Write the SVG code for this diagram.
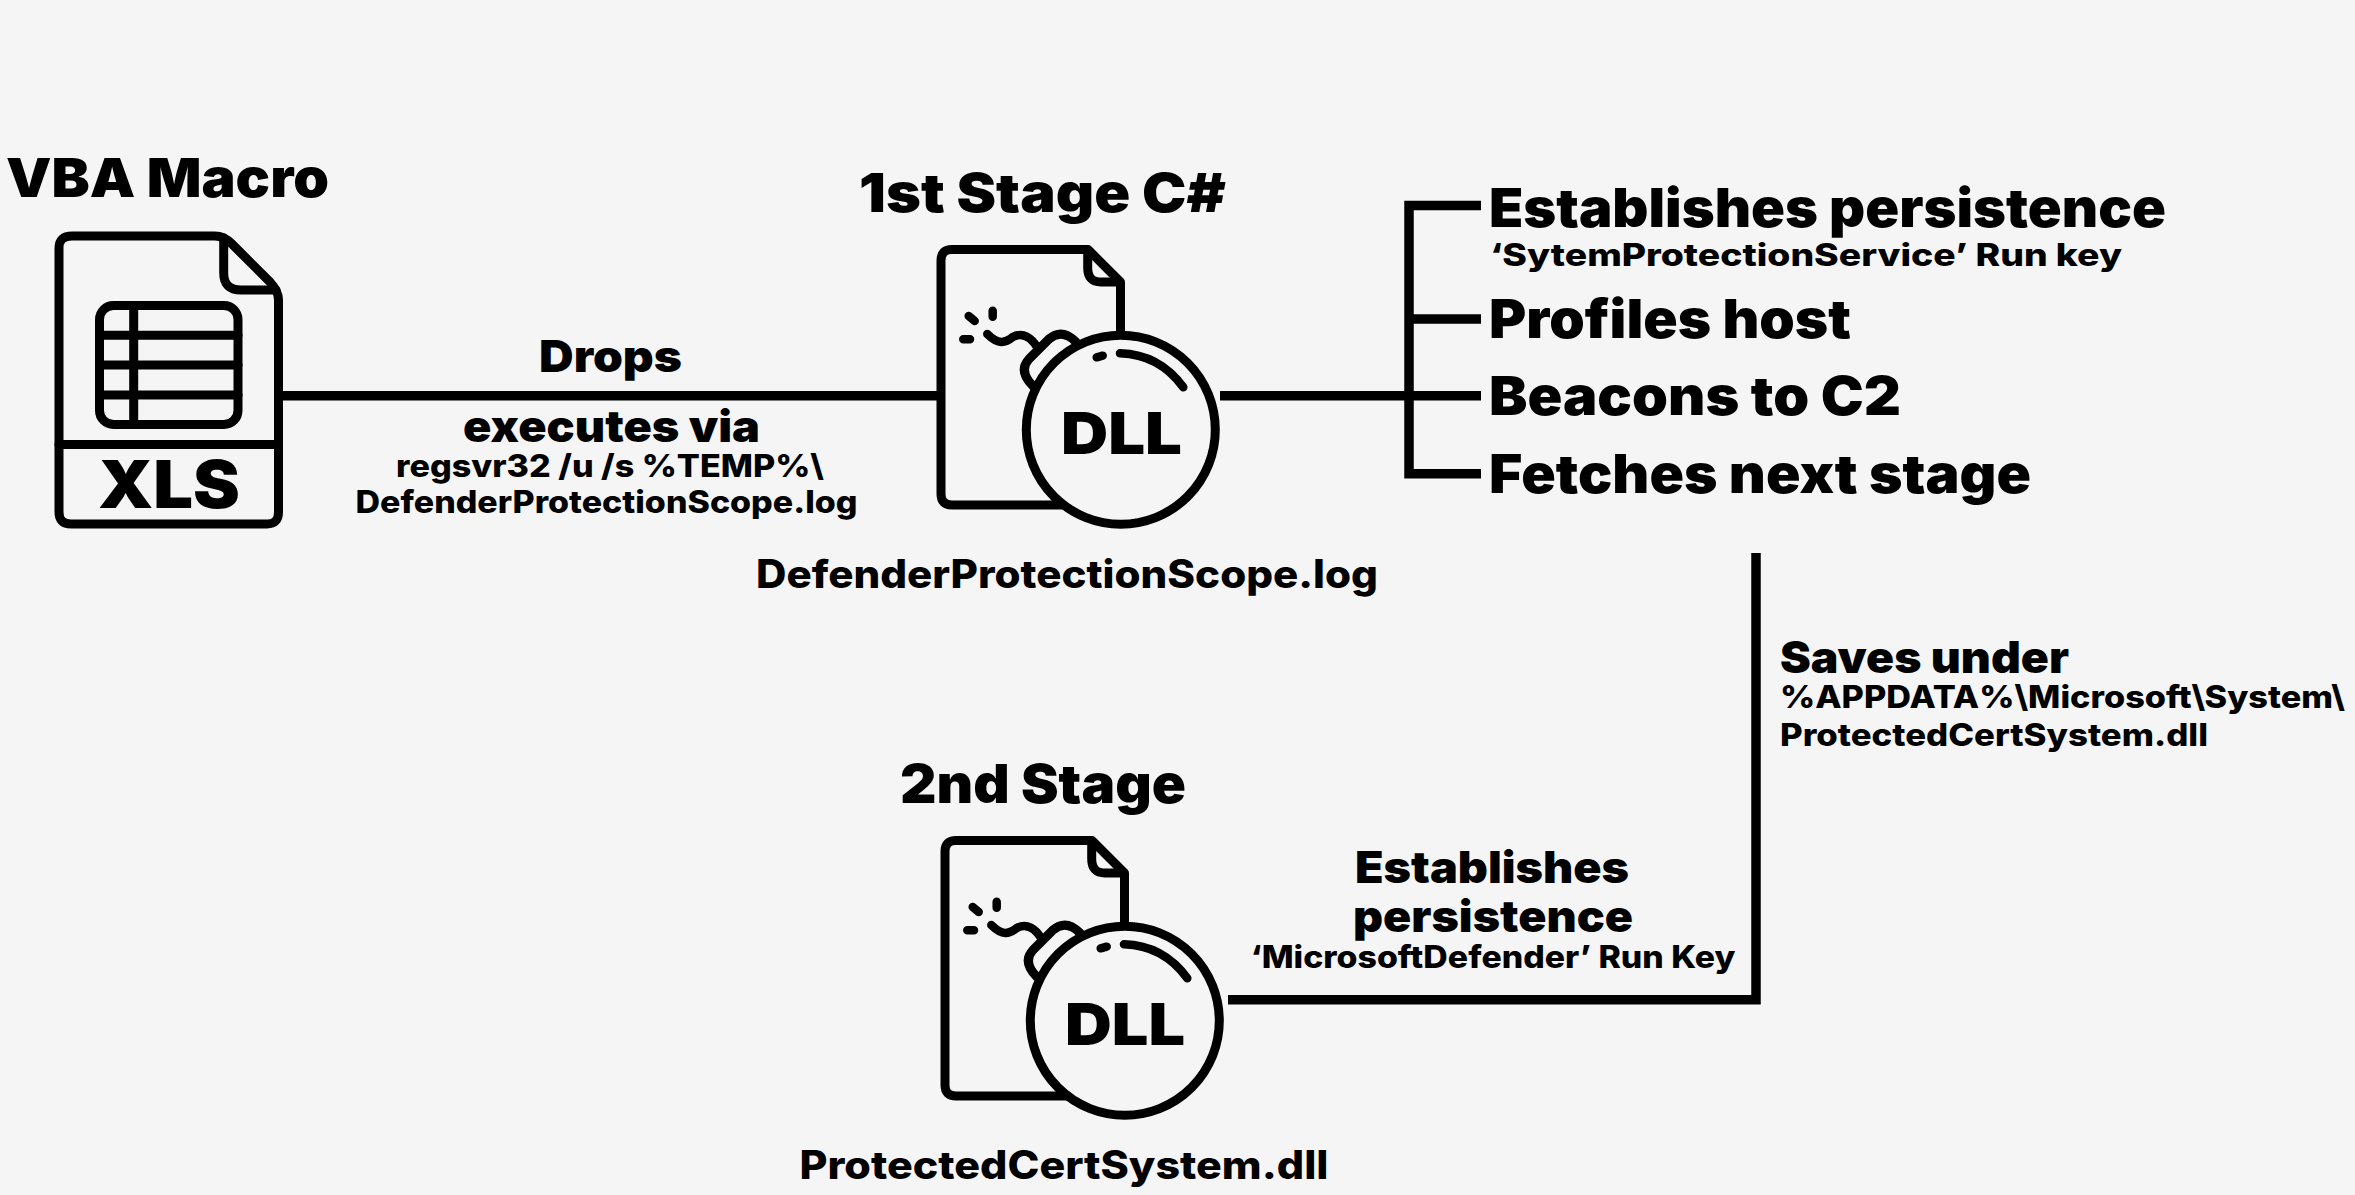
<svg xmlns="http://www.w3.org/2000/svg" xmlns:xlink="http://www.w3.org/1999/xlink" width="2355" height="1195" viewBox="0 0 2355 1195">
<style>
text{font-family:"Inter","Liberation Sans",sans-serif;font-weight:900;fill:#000}
.h{font-size:54px}.m{font-size:44px}.f{font-size:39px;font-weight:800}.s{font-size:31px;font-weight:800}.d{font-size:58px}
.ic{fill:none;stroke:#000;stroke-width:9;stroke-linecap:round;stroke-linejoin:round}
.sp{fill:none;stroke:#000;stroke-width:8.5;stroke-linecap:round}
.ln{fill:none;stroke:#000;stroke-width:9.5}
</style>
<defs>
<g id="bomb">
<path class="ic" d="M952,249.500H1088L1120.500,282V505H952Q941,505 941,494V260.500Q941,249.500 952,249.500Z"/>
<path class="ic" d="M1087.700,252V268Q1087.700,282 1101,282H1118"/>
<path class="sp" d="M968.700,316L974.700,321M992.700,310.700V316.700M963.300,339.300H970"/>
<path class="sp" d="M987.300,334C998.300,345 1005,343.300 1013.300,336.700C1023.300,331.700 1031.700,338.300 1037.300,347.300"/>
<path class="ic" d="M1033,386Q1018,371 1029,359L1049,339Q1062,328 1076,342"/>
<circle cx="1120.800" cy="429.700" r="94.500" fill="#f5f5f5" stroke="#000" stroke-width="9"/>
<path class="sp" d="M1096.700,357.300L1102.700,355.700M1120,353.300C1146.700,354 1168.300,366.700 1183.300,387.300"/>
</g>
</defs>
<rect width="2355" height="1195" fill="#f5f5f5"/>
<g id="connectors">
<path class="ln" d="M283,395.800H938"/>
<path class="ln" d="M1220,395.800H1481M1481,205.500H1409V473.700H1481M1409,319H1481"/>
<path class="ln" d="M1756,553V999.700H1228"/>
</g>
<g id="node-vba">
<text class="h" x="6" y="197" textLength="323" lengthAdjust="spacingAndGlyphs">VBA Macro</text>
<path class="ic" d="M72,236H215Q224,236 232,244L270,282Q278.500,291 278.500,300V512Q278.500,524 267,524H71Q59,524 59,512V248Q59,236 72,236Z"/>
<path class="ic" d="M223.700,238V273Q223.700,290 241,290H276"/>
<path class="ic" d="M59,444.500H278.500"/>
<rect class="ic" x="99.500" y="305.500" width="138.500" height="119" rx="14"/>
<path class="ic" stroke-linecap="butt" d="M99.500,335.300H238M99.500,365H238M99.500,395H238M133.700,305.500V424.500"/>
<text x="98" y="508" font-size="66" textLength="142" lengthAdjust="spacingAndGlyphs">XLS</text>
</g>
<g id="edge-label-drops">
<text class="m" x="539" y="371.700" textLength="143" lengthAdjust="spacingAndGlyphs">Drops</text>
<text class="m" x="463" y="441.700" textLength="297" lengthAdjust="spacingAndGlyphs">executes via</text>
<text class="s" x="396" y="476.700" textLength="428" lengthAdjust="spacingAndGlyphs">regsvr32 /u /s %TEMP%\</text>
<text class="s" x="355.500" y="513.300" textLength="502" lengthAdjust="spacingAndGlyphs">DefenderProtectionScope.log</text>
</g>
<g id="node-stage1">
<text class="h" x="859" y="211.700" textLength="367" lengthAdjust="spacingAndGlyphs">1st Stage C#</text>
<use href="#bomb" xlink:href="#bomb"/>
<text class="d" x="1061" y="454" textLength="121" lengthAdjust="spacingAndGlyphs">DLL</text>
<text class="f" x="756" y="588" textLength="622" lengthAdjust="spacingAndGlyphs">DefenderProtectionScope.log</text>
</g>
<g id="node-actions">
<text class="h" x="1489" y="226.700" textLength="677" lengthAdjust="spacingAndGlyphs">Establishes persistence</text>
<text class="s" x="1490" y="266" textLength="632" lengthAdjust="spacingAndGlyphs">‘SytemProtectionService’ Run key</text>
<text class="h" x="1489" y="337.700" textLength="362" lengthAdjust="spacingAndGlyphs">Profiles host</text>
<text class="h" x="1489" y="415" textLength="412" lengthAdjust="spacingAndGlyphs">Beacons to C2</text>
<text class="h" x="1489" y="492.700" textLength="542" lengthAdjust="spacingAndGlyphs">Fetches next stage</text>
</g>
<g id="edge-label-saves">
<text class="m" x="1780" y="672.700" textLength="289" lengthAdjust="spacingAndGlyphs">Saves under</text>
<text class="s" x="1780" y="708" textLength="565" lengthAdjust="spacingAndGlyphs">%APPDATA%\Microsoft\System\</text>
<text class="s" x="1780" y="746" textLength="428" lengthAdjust="spacingAndGlyphs">ProtectedCertSystem.dll</text>
</g>
<g id="edge-label-persist">
<text class="m" x="1355" y="882.700" textLength="274" lengthAdjust="spacingAndGlyphs">Establishes</text>
<text class="m" x="1353" y="931.700" textLength="280" lengthAdjust="spacingAndGlyphs">persistence</text>
<text class="s" x="1250.500" y="968" textLength="485" lengthAdjust="spacingAndGlyphs">‘MicrosoftDefender’ Run Key</text>
</g>
<g id="node-stage2">
<text class="h" x="900" y="802.700" textLength="286" lengthAdjust="spacingAndGlyphs">2nd Stage</text>
<use href="#bomb" xlink:href="#bomb" x="4" y="591"/>
<text class="d" x="1065" y="1045" textLength="120" lengthAdjust="spacingAndGlyphs">DLL</text>
<text class="f" x="799.500" y="1179" textLength="529" lengthAdjust="spacingAndGlyphs">ProtectedCertSystem.dll</text>
</g>
</svg>
